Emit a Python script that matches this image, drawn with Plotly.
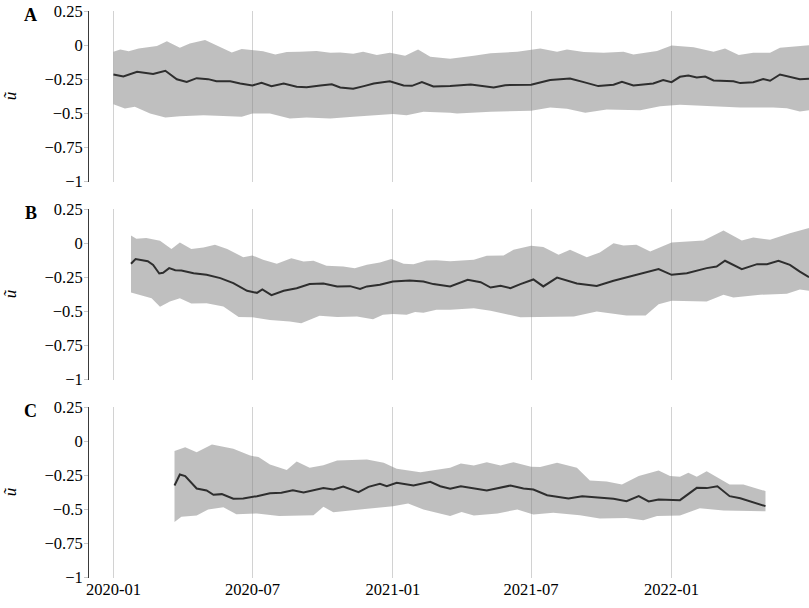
import plotly.graph_objects as go

# ---------------- data ----------------
A_mean_dates = ["2020-01-01","2020-01-14","2020-02-01","2020-02-22","2020-03-09","2020-03-24","2020-04-06","2020-04-19","2020-05-04","2020-05-15","2020-06-02","2020-06-15","2020-07-01","2020-07-13","2020-07-26","2020-08-11","2020-08-28","2020-09-10","2020-09-28","2020-10-13","2020-10-24","2020-11-10","2020-11-24","2020-12-07","2020-12-28","2021-01-15","2021-01-26","2021-02-08","2021-02-23","2021-03-17","2021-04-13","2021-05-13","2021-05-28","2021-07-01","2021-07-26","2021-08-21","2021-09-08","2021-09-27","2021-10-17","2021-10-28","2021-11-12","2021-12-08","2021-12-21","2022-01-01","2022-01-12","2022-01-23","2022-02-03","2022-02-14","2022-02-25","2022-03-23","2022-04-01","2022-04-18","2022-05-01","2022-05-10","2022-05-23","2022-06-10","2022-06-18","2022-06-30"]
A_mean = [-0.215,-0.23,-0.195,-0.212,-0.188,-0.25,-0.27,-0.242,-0.249,-0.264,-0.264,-0.281,-0.295,-0.276,-0.30,-0.281,-0.305,-0.308,-0.295,-0.286,-0.31,-0.32,-0.30,-0.281,-0.264,-0.295,-0.298,-0.271,-0.303,-0.30,-0.288,-0.31,-0.293,-0.29,-0.256,-0.244,-0.271,-0.30,-0.29,-0.269,-0.295,-0.281,-0.256,-0.271,-0.232,-0.222,-0.237,-0.23,-0.259,-0.264,-0.278,-0.271,-0.249,-0.261,-0.215,-0.237,-0.249,-0.247]

A_hi_dates = ["2020-01-01","2020-01-10","2020-01-21","2020-02-03","2020-02-27","2020-03-11","2020-03-28","2020-04-10","2020-04-30","2020-05-15","2020-06-04","2020-06-17","2020-07-01","2020-07-15","2020-07-31","2020-08-15","2020-09-01","2020-09-23","2020-10-11","2020-10-24","2020-11-10","2020-11-23","2020-12-11","2020-12-28","2021-01-17","2021-02-03","2021-02-19","2021-03-17","2021-04-17","2021-05-09","2021-06-13","2021-07-13","2021-08-04","2021-08-17","2021-09-08","2021-10-04","2021-10-30","2021-11-12","2021-12-13","2022-01-01","2022-01-30","2022-02-25","2022-03-12","2022-03-30","2022-04-18","2022-05-10","2022-05-23","2022-06-14","2022-06-30"]
A_hi = [-0.049,-0.032,-0.044,-0.024,-0.007,0.029,-0.02,0.012,0.037,0.0,-0.054,-0.029,-0.039,-0.044,-0.068,-0.051,-0.049,-0.042,-0.056,-0.054,-0.063,-0.049,-0.073,-0.056,-0.078,-0.032,-0.085,-0.10,-0.078,-0.059,-0.049,-0.024,-0.049,-0.032,-0.051,-0.056,-0.049,-0.068,-0.042,-0.002,-0.015,-0.049,-0.024,-0.073,-0.056,-0.056,-0.02,-0.007,0.0]

A_lo_dates = ["2020-01-01","2020-01-16","2020-01-29","2020-02-18","2020-03-09","2020-03-28","2020-04-28","2020-05-24","2020-06-17","2020-07-01","2020-07-24","2020-08-19","2020-09-10","2020-10-11","2020-11-10","2020-12-07","2021-01-01","2021-01-19","2021-02-10","2021-03-17","2021-03-26","2021-05-09","2021-07-01","2021-07-26","2021-08-17","2021-09-10","2021-10-08","2021-11-21","2021-12-17","2022-01-12","2022-02-16","2022-04-01","2022-05-14","2022-06-01","2022-06-18","2022-06-30"]
A_lo = [-0.432,-0.464,-0.452,-0.50,-0.53,-0.52,-0.513,-0.518,-0.525,-0.50,-0.50,-0.537,-0.53,-0.537,-0.525,-0.513,-0.505,-0.513,-0.488,-0.496,-0.50,-0.488,-0.481,-0.457,-0.466,-0.496,-0.471,-0.476,-0.447,-0.437,-0.447,-0.457,-0.457,-0.462,-0.486,-0.476]

B_mean_dates = ["2020-01-24","2020-01-30","2020-02-15","2020-02-22","2020-03-01","2020-03-06","2020-03-14","2020-03-22","2020-03-30","2020-04-15","2020-05-02","2020-05-20","2020-06-06","2020-06-24","2020-07-07","2020-07-14","2020-07-26","2020-08-11","2020-08-28","2020-09-14","2020-10-02","2020-10-20","2020-11-06","2020-11-19","2020-11-28","2020-12-15","2021-01-01","2021-01-23","2021-02-10","2021-02-23","2021-03-17","2021-04-09","2021-04-26","2021-05-09","2021-05-22","2021-06-04","2021-06-17","2021-07-04","2021-07-17","2021-08-04","2021-08-30","2021-09-25","2021-10-17","2021-11-03","2021-11-25","2021-12-15","2022-01-01","2022-01-21","2022-02-16","2022-03-01","2022-03-12","2022-04-03","2022-04-23","2022-05-06","2022-05-21","2022-06-05","2022-06-18","2022-06-30"]
B_mean = [-0.151,-0.117,-0.132,-0.159,-0.222,-0.217,-0.183,-0.198,-0.20,-0.22,-0.232,-0.256,-0.293,-0.349,-0.364,-0.339,-0.381,-0.349,-0.33,-0.30,-0.295,-0.317,-0.315,-0.335,-0.317,-0.305,-0.281,-0.273,-0.281,-0.30,-0.317,-0.269,-0.286,-0.325,-0.313,-0.33,-0.30,-0.266,-0.317,-0.252,-0.295,-0.313,-0.276,-0.252,-0.22,-0.19,-0.232,-0.22,-0.183,-0.171,-0.129,-0.19,-0.154,-0.154,-0.129,-0.159,-0.208,-0.249]

B_hi_dates = ["2020-01-24","2020-01-31","2020-02-13","2020-03-02","2020-03-17","2020-03-28","2020-04-12","2020-04-28","2020-05-13","2020-05-29","2020-06-19","2020-07-01","2020-07-15","2020-08-02","2020-08-21","2020-09-06","2020-09-19","2020-10-06","2020-10-28","2020-11-12","2020-11-28","2020-12-15","2020-12-30","2021-01-15","2021-01-28","2021-02-14","2021-02-27","2021-03-17","2021-04-17","2021-05-04","2021-05-26","2021-06-08","2021-07-01","2021-07-17","2021-08-06","2021-08-21","2021-09-12","2021-09-29","2021-10-17","2021-10-30","2021-11-16","2021-12-04","2022-01-01","2022-02-12","2022-03-10","2022-04-03","2022-04-18","2022-05-10","2022-06-05","2022-06-30"]
B_hi = [0.056,0.032,0.037,0.017,-0.042,0.005,-0.042,-0.032,-0.012,-0.042,-0.103,-0.09,-0.122,-0.151,-0.11,-0.134,-0.129,-0.166,-0.171,-0.183,-0.159,-0.142,-0.117,-0.151,-0.154,-0.127,-0.125,-0.132,-0.122,-0.093,-0.09,-0.049,-0.02,-0.029,-0.085,-0.049,-0.103,-0.068,0.0,-0.017,-0.012,-0.061,0.005,0.02,0.093,0.02,0.042,0.024,0.073,0.11]

B_lo_dates = ["2020-01-24","2020-02-05","2020-02-20","2020-03-02","2020-03-15","2020-03-28","2020-04-12","2020-05-02","2020-05-24","2020-06-13","2020-07-01","2020-07-24","2020-08-19","2020-09-03","2020-09-27","2020-10-20","2020-11-15","2020-12-06","2020-12-19","2021-01-01","2021-01-19","2021-01-30","2021-02-10","2021-02-27","2021-03-17","2021-04-17","2021-05-09","2021-06-17","2021-07-13","2021-08-26","2021-09-25","2021-11-03","2021-11-28","2021-12-15","2022-01-01","2022-02-16","2022-03-10","2022-03-23","2022-04-27","2022-06-01","2022-06-18","2022-06-30"]
B_lo = [-0.361,-0.378,-0.403,-0.466,-0.427,-0.403,-0.442,-0.44,-0.464,-0.54,-0.542,-0.562,-0.574,-0.586,-0.532,-0.54,-0.537,-0.557,-0.525,-0.518,-0.525,-0.505,-0.51,-0.488,-0.488,-0.476,-0.496,-0.542,-0.537,-0.537,-0.50,-0.53,-0.53,-0.447,-0.422,-0.427,-0.378,-0.398,-0.378,-0.371,-0.339,-0.349]

C_mean_dates = ["2020-03-21","2020-03-28","2020-04-04","2020-04-19","2020-05-02","2020-05-11","2020-05-22","2020-06-06","2020-06-19","2020-07-07","2020-07-24","2020-08-08","2020-08-23","2020-09-06","2020-10-02","2020-10-15","2020-10-28","2020-11-17","2020-11-30","2020-12-15","2020-12-24","2021-01-06","2021-01-28","2021-02-19","2021-03-04","2021-03-17","2021-03-31","2021-05-04","2021-06-04","2021-06-21","2021-07-04","2021-07-22","2021-08-19","2021-09-06","2021-10-17","2021-11-03","2021-11-19","2021-12-02","2021-12-15","2022-01-12","2022-02-03","2022-02-16","2022-03-02","2022-03-18","2022-04-01","2022-05-04"]
C_mean = [-0.325,-0.244,-0.256,-0.347,-0.361,-0.393,-0.388,-0.422,-0.42,-0.403,-0.381,-0.378,-0.359,-0.376,-0.344,-0.354,-0.332,-0.374,-0.335,-0.313,-0.33,-0.305,-0.325,-0.298,-0.33,-0.349,-0.33,-0.361,-0.325,-0.347,-0.354,-0.396,-0.42,-0.403,-0.422,-0.44,-0.403,-0.442,-0.427,-0.432,-0.342,-0.344,-0.33,-0.403,-0.418,-0.476]

C_hi_dates = ["2020-03-21","2020-04-04","2020-04-19","2020-05-09","2020-06-06","2020-06-28","2020-07-09","2020-07-24","2020-08-15","2020-08-28","2020-09-14","2020-10-02","2020-10-20","2020-11-28","2020-12-20","2021-01-06","2021-02-06","2021-03-17","2021-03-31","2021-04-17","2021-05-04","2021-05-22","2021-06-08","2021-07-01","2021-07-13","2021-08-04","2021-08-30","2021-09-16","2021-10-08","2021-10-28","2021-11-19","2021-12-15","2021-12-30","2022-01-12","2022-01-23","2022-02-03","2022-02-16","2022-03-18","2022-04-05","2022-05-04"]
C_hi = [-0.073,-0.044,-0.081,-0.024,-0.056,-0.105,-0.117,-0.171,-0.212,-0.149,-0.195,-0.176,-0.142,-0.134,-0.159,-0.203,-0.227,-0.195,-0.164,-0.178,-0.154,-0.178,-0.154,-0.188,-0.19,-0.159,-0.195,-0.288,-0.295,-0.317,-0.256,-0.215,-0.256,-0.261,-0.232,-0.261,-0.22,-0.317,-0.317,-0.366]

C_lo_dates = ["2020-03-21","2020-03-30","2020-04-19","2020-05-04","2020-05-24","2020-06-10","2020-07-07","2020-08-05","2020-09-19","2020-10-02","2020-10-15","2020-11-15","2020-12-06","2021-01-01","2021-01-21","2021-02-10","2021-03-17","2021-04-01","2021-04-17","2021-05-18","2021-06-13","2021-07-04","2021-07-30","2021-09-03","2021-09-29","2021-11-03","2021-11-25","2021-12-13","2022-01-12","2022-02-07","2022-03-10","2022-05-04"]
C_lo = [-0.593,-0.554,-0.545,-0.50,-0.484,-0.535,-0.53,-0.549,-0.542,-0.481,-0.52,-0.50,-0.491,-0.476,-0.457,-0.50,-0.549,-0.518,-0.545,-0.53,-0.50,-0.537,-0.525,-0.542,-0.567,-0.562,-0.579,-0.549,-0.545,-0.491,-0.508,-0.513]

panel_labels = ["A", "B", "C"]
y_tick_vals = [0.25, 0, -0.25, -0.5, -0.75, -1]
y_tick_text = ["0.25", "0", "\u22120.25", "\u22120.5", "\u22120.75", "\u22121"]
x_range = ["2019-11-30", "2022-06-30"]
y_title = "ũ"

panels = [
    (A_mean_dates, A_mean, A_hi_dates, A_hi, A_lo_dates, A_lo),
    (B_mean_dates, B_mean, B_hi_dates, B_hi, B_lo_dates, B_lo),
    (C_mean_dates, C_mean, C_hi_dates, C_hi, C_lo_dates, C_lo),
]

# ---------------- layout geometry (body margin removed via post_script) ----------------
W, H = 809, 608
ML = 89
domains_px = [(11, 181.7), (209, 379.7), (407, 577.7)]
label_centers_px = [15, 213, 411]
label_x_px = 31
title_x_px = 10

FONT = "Liberation Serif, Times New Roman, serif"
BAND = "rgba(128,128,128,0.5)"
LINE = "#2e2e2e"
GRID = "#d2d2d2"
TICK_SIZE = 16.5

fig = go.Figure()
layout = dict(
    width=W, height=H,
    margin=dict(l=ML, r=0, t=0, b=0, autoexpand=False),
    paper_bgcolor="white", plot_bgcolor="white",
    showlegend=False,
    font=dict(family=FONT, size=TICK_SIZE, color="black"),
)

annotations = []
for i, (md, mv, hd, hv, ld, lv) in enumerate(panels):
    n = i + 1
    xa = "x" if n == 1 else f"x{n}"
    ya = "y" if n == 1 else f"y{n}"
    poly_x = list(hd) + list(ld)[::-1]
    poly_y = list(hv) + list(lv)[::-1]
    fig.add_trace(go.Scatter(x=poly_x, y=poly_y, fill="toself", fillcolor=BAND,
                             line=dict(width=0), mode="lines", hoverinfo="skip",
                             xaxis=xa, yaxis=ya))
    fig.add_trace(go.Scatter(x=md, y=mv, mode="lines",
                             line=dict(color=LINE, width=2),
                             xaxis=xa, yaxis=ya))
    top, bot = domains_px[i]
    dom = [1 - bot / H, 1 - top / H]
    xkey = "xaxis" if n == 1 else f"xaxis{n}"
    ykey = "yaxis" if n == 1 else f"yaxis{n}"
    layout[xkey] = dict(
        type="date", range=x_range, anchor=ya, domain=[0, 1], automargin=False,
        showgrid=True, gridcolor=GRID, gridwidth=1,
        dtick="M6", tick0="2020-01-01", tickformat="%Y-%m",
        showticklabels=(n == 3), ticks="", showline=False, zeroline=False,
        tickfont=dict(family=FONT, size=TICK_SIZE, color="black"),
    )
    layout[ykey] = dict(
        range=[-1, 0.25], domain=dom, anchor=xa, automargin=False,
        tickvals=y_tick_vals, ticktext=y_tick_text,
        showgrid=False, zeroline=False,
        showline=True, linecolor="#3a3a3a", linewidth=1,
        ticks="outside", ticklen=4, tickcolor="#c8c8c8", tickwidth=1,
        ticklabelstandoff=-2,
        tickfont=dict(family=FONT, size=TICK_SIZE, color="black"),
    )
    annotations.append(dict(
        text=f"<b>{panel_labels[i]}</b>", xref="paper", yref="paper",
        x=(label_x_px - ML) / (W - ML), y=1 - label_centers_px[i] / H,
        xanchor="center", yanchor="middle", showarrow=False,
        font=dict(family=FONT, size=18, color="black"),
    ))
    annotations.append(dict(
        text=f"<i>{y_title}</i>", xref="paper", yref="paper",
        x=(title_x_px - ML) / (W - ML), y=1 - ((top + bot) / 2) / H,
        xanchor="center", yanchor="middle", showarrow=False, textangle=-90,
        font=dict(family=FONT, size=17, color="black"),
    ))

layout["annotations"] = annotations
fig.update_layout(**layout)
fig.write_html(
    "out.html",
    config={"displayModeBar": False},
    post_script="document.body.style.margin='0';document.body.style.overflow='hidden';",
)
